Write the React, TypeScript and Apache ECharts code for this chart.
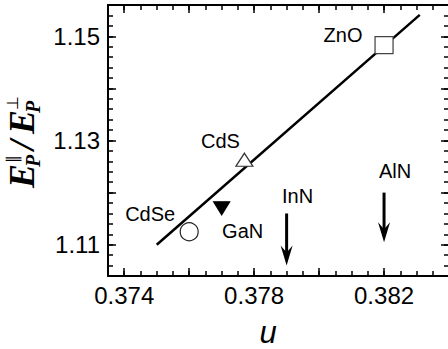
import React, { useEffect, useRef } from "react";
import * as echarts from "echarts";

// Fitted trend of the plasmon-energy anisotropy against the internal parameter u
const fitLineU = [0.375, 0.3831];
const fitLineRatio = [1.11, 1.1541];

// Measured wurtzite compounds
const compoundNames = ["ZnO", "CdS", "CdSe", "GaN"];
const compoundU = [0.382, 0.3777, 0.376, 0.377];
const compoundRatio = [1.1483, 1.1263, 1.1125, 1.117];

// Compounds shown only as downward arrows at their u value
const boundNames = ["InN", "AlN"];
const boundU = [0.379, 0.382];
const boundTop = [1.116, 1.12];
const boundBottom = [1.106, 1.1105];

// Axis ticks and labels
const xTickLabels = [0.374, 0.378, 0.382];
const xMajorTicks = [0.374, 0.376, 0.378, 0.38, 0.382, 0.384];
const yTickLabels = [1.11, 1.13, 1.15];
const yMajorTicks = [1.11, 1.12, 1.13, 1.14, 1.15];

const X_MIN = 0.3735;
const X_MAX = 0.384;
const Y_MIN = 1.104;
const Y_MAX = 1.156;

const SANS = '"Liberation Sans", Arial, Helvetica, sans-serif';
const SERIF = '"Liberation Serif", "Times New Roman", serif';

const markerStyles: Record<string, any> = {
  ZnO: { symbol: "rect", symbolSize: [18, 17], symbolRotate: 0, color: "#fff", border: "#444", labelOffset: [-41, -10] },
  CdS: { symbol: "triangle", symbolSize: [17, 13], symbolRotate: 0, color: "#fff", border: "#333", labelOffset: [-24, -19] },
  CdSe: { symbol: "circle", symbolSize: 18, symbolRotate: 0, color: "#fff", border: "#222", labelOffset: [-39, -18] },
  GaN: { symbol: "triangle", symbolSize: [16, 13], symbolRotate: 180, color: "#000", border: "#000", labelOffset: [21, 23] },
};

const arrowLabelOffset: Record<string, number[]> = {
  InN: [11, -17],
  AlN: [11, -22],
};

function xAxisPair(position: "bottom" | "top", withLabels: boolean) {
  return [
    {
      type: "value",
      position,
      min: X_MIN,
      max: X_MAX,
      interval: 0.0005,
      axisLine: { show: true, lineStyle: { color: "#000", width: 2 } },
      axisTick: { show: true, inside: true, length: 5, lineStyle: { color: "#000", width: 1.5 } },
      axisLabel: withLabels
        ? {
            show: true,
            customValues: xTickLabels,
            formatter: (v: number) => v.toFixed(3),
            color: "#000",
            fontSize: 24,
            fontFamily: SANS,
            margin: 7,
          }
        : { show: false },
      splitLine: { show: false },
    },
    {
      type: "value",
      position,
      min: X_MIN,
      max: X_MAX,
      axisLine: { show: false },
      axisTick: { show: true, inside: true, length: 8, customValues: xMajorTicks, lineStyle: { color: "#000", width: 1.5 } },
      axisLabel: { show: false },
      splitLine: { show: false },
    },
  ];
}

function yAxisPair(position: "left" | "right", withLabels: boolean) {
  return [
    {
      type: "value",
      position,
      min: Y_MIN,
      max: Y_MAX,
      interval: 0.002,
      axisLine: { show: true, lineStyle: { color: "#000", width: 2 } },
      axisTick: { show: true, inside: true, length: 5, lineStyle: { color: "#000", width: 1.5 } },
      axisLabel: withLabels
        ? {
            show: true,
            customValues: yTickLabels,
            formatter: (v: number) => v.toFixed(2),
            color: "#000",
            fontSize: 24,
            fontFamily: SANS,
            margin: 8,
          }
        : { show: false },
      splitLine: { show: false },
    },
    {
      type: "value",
      position,
      min: Y_MIN,
      max: Y_MAX,
      axisLine: { show: false },
      axisTick: { show: true, inside: true, length: 8, customValues: yMajorTicks, lineStyle: { color: "#000", width: 1.5 } },
      axisLabel: { show: false },
      splitLine: { show: false },
    },
  ];
}

// Rotated y-axis title: E_P^∥ / E_P^⊥ in bold italic serif
function yTitle() {
  const big = `italic bold 36px ${SERIF}`;
  const sub = `italic bold 20px ${SERIF}`;
  const sup = `16px ${SERIF}`;
  const mid = (size: number, baseline: number) => baseline - 0.34 * size;
  const t = (text: string, x: number, y: number, font: string) => ({
    type: "text",
    x,
    y,
    style: { text, font, fill: "#000", align: "left", verticalAlign: "middle" },
  });
  return {
    type: "group",
    x: 34,
    y: 188,
    rotation: Math.PI / 2,
    children: [
      t("E", 0, mid(36, 0), big),
      t("P", 21, mid(20, 6), sub),
      t("\u2225", 25, mid(16, -16), sup),
      t("/", 38, mid(36, 0), big),
      t("E", 54, mid(36, 0), big),
      t("P", 75, mid(20, 6), sub),
      t("\u22A5", 78, mid(16, -16), sup),
    ],
  };
}

export default function App() {
  const ref = useRef<HTMLDivElement>(null);

  useEffect(() => {
    if (!ref.current) return;
    const chart = echarts.init(ref.current, undefined, { renderer: "svg" });

    const markerSeries = compoundNames.map((name, i) => {
      const s = markerStyles[name];
      return {
        type: "scatter",
        name,
        xAxisIndex: 0,
        yAxisIndex: 0,
        z: 4,
        symbol: s.symbol,
        symbolSize: s.symbolSize,
        symbolRotate: s.symbolRotate,
        itemStyle: { color: s.color, borderColor: s.border, borderWidth: 1.2, opacity: 1 },
        label: {
          show: true,
          position: "inside",
          offset: s.labelOffset,
          formatter: name,
          color: "#000",
          fontSize: 20,
          fontFamily: SANS,
        },
        data: [[compoundU[i], compoundRatio[i]]],
      };
    });

    const option: any = {
      animation: false,
      backgroundColor: "#fff",
      grid: { left: 108, top: 5, width: 341, height: 271, containLabel: false },
      xAxis: [...xAxisPair("bottom", true), ...xAxisPair("top", false)],
      yAxis: [...yAxisPair("left", true), ...yAxisPair("right", false)],
      series: [
        {
          type: "line",
          xAxisIndex: 0,
          yAxisIndex: 0,
          z: 2,
          showSymbol: false,
          symbol: "none",
          lineStyle: { color: "#000", width: 2.5 },
          data: fitLineU.map((u, i) => [u, fitLineRatio[i]]),
        },
        ...markerSeries,
        {
          type: "custom",
          xAxisIndex: 0,
          yAxisIndex: 0,
          z: 3,
          encode: { x: 0, y: [1, 2] },
          data: boundU.map((u, i) => [u, boundTop[i], boundBottom[i]]),
          renderItem: (params: any, api: any) => {
            const name = boundNames[params.dataIndex];
            const top = api.coord([api.value(0), api.value(1)]);
            const tip = api.coord([api.value(0), api.value(2)]);
            const x = top[0];
            const headLen = 20;
            const headHalf = 6;
            const notch = 7;
            const off = arrowLabelOffset[name] || [0, -18];
            return {
              type: "group",
              children: [
                {
                  type: "rect",
                  shape: { x: x - 1.5, y: top[1], width: 3, height: tip[1] - headLen + notch - top[1] + 1 },
                  style: { fill: "#000" },
                },
                {
                  type: "polygon",
                  shape: {
                    points: [
                      [x, tip[1]],
                      [x - headHalf, tip[1] - headLen],
                      [x, tip[1] - headLen + notch],
                      [x + headHalf, tip[1] - headLen],
                    ],
                  },
                  style: { fill: "#000" },
                },
                {
                  type: "text",
                  x: x + off[0],
                  y: top[1] + off[1],
                  style: {
                    text: name,
                    fill: "#000",
                    font: `20px ${SANS}`,
                    align: "center",
                    verticalAlign: "middle",
                  },
                },
              ],
            };
          },
        },
      ],
      graphic: [
        yTitle(),
        {
          type: "text",
          x: 268,
          y: 332,
          style: {
            text: "u",
            font: `italic 31px ${SANS}`,
            fill: "#000",
            align: "center",
            verticalAlign: "middle",
          },
        },
      ],
    };

    chart.setOption(option);
    return () => chart.dispose();
  }, []);

  return (
    <div
      ref={ref}
      style={{ position: "fixed", left: 0, top: 0, width: 452, height: 349, background: "#fff" }}
    />
  );
}
